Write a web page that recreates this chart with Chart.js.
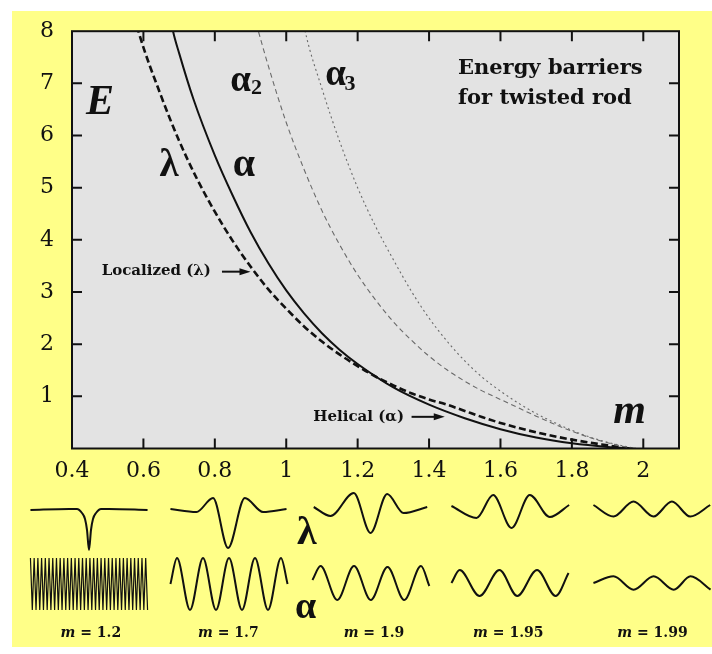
<!DOCTYPE html>
<html><head><meta charset="utf-8">
<script src="https://cdn.jsdelivr.net/npm/chart.js@4.4.1/dist/chart.umd.min.js"></script>
<style>
html,body{margin:0;padding:0;width:712px;height:654px;overflow:hidden;background:#fff;}
#bg{position:absolute;left:12px;top:11px;width:700px;height:636px;background:#ffff88;}
#main{position:absolute;left:0;top:0;}
.th{position:absolute;}
.lbl{position:absolute;font-family:"DejaVu Serif";font-weight:bold;font-size:14px;line-height:16px;color:#111;white-space:nowrap;transform:translateX(-50%);}
.greek{position:absolute;font-family:"Liberation Serif";font-weight:bold;color:#111;line-height:1;}
</style></head><body>
<div id="bg"></div>
<canvas id="main" width="712" height="490"></canvas>
<script>
// ---------- main chart data (m, E) ----------
const xTickLabels = ['0.4','0.6','0.8','1','1.2','1.4','1.6','1.8','2'];
const yTickLabels = ['','1','2','3','4','5','6','7','8'];

const mLambda = [0.575,0.586,0.65,0.70,0.75,0.80,0.85,0.90,0.95,1.00,1.05,1.10,1.15,1.20,1.25,1.30,1.35,1.40,1.45,1.50,1.55,1.60,1.70,1.80,1.90,1.96];
const eLambda = [8.30,8.00,6.75,5.90,5.17,4.54,3.98,3.49,3.05,2.68,2.34,2.05,1.80,1.58,1.38,1.21,1.06,0.94,0.84,0.72,0.60,0.49,0.31,0.17,0.06,0.00];

const mAlpha = [0.675,0.683,0.70,0.74,0.80,0.85,0.90,0.95,1.00,1.05,1.10,1.15,1.20,1.30,1.40,1.50,1.60,1.70,1.80,1.90,1.97];
const eAlpha = [8.30,8.00,7.58,6.70,5.62,4.85,4.15,3.55,3.03,2.59,2.21,1.89,1.62,1.17,0.84,0.58,0.37,0.21,0.10,0.03,0.00];

const mAlpha2 = [0.910,0.922,0.95,1.00,1.05,1.10,1.15,1.20,1.25,1.30,1.35,1.40,1.45,1.50,1.55,1.60,1.65,1.70,1.75,1.80,1.85,1.90,1.95,1.98];
const eAlpha2 = [8.30,8.00,7.33,6.25,5.35,4.56,3.90,3.33,2.85,2.43,2.08,1.77,1.51,1.29,1.10,0.94,0.78,0.62,0.47,0.33,0.21,0.11,0.03,0.00];

const mAlpha3 = [1.045,1.053,1.10,1.15,1.20,1.25,1.30,1.35,1.40,1.45,1.50,1.55,1.60,1.65,1.70,1.75,1.80,1.85,1.90,1.95,1.98];
const eAlpha3 = [8.30,8.00,6.90,5.88,5.00,4.26,3.62,3.02,2.50,2.06,1.68,1.36,1.10,0.87,0.67,0.50,0.35,0.22,0.12,0.04,0.00];

// ---------- rod shape thumbnails (arc length %, displacement) ----------
const rodCases = ['1.2','1.7','1.9','1.95','1.99'];
const lambdaS = [
  [0,33,39.7,44,46.6,48.3,50,51.7,53.4,56,60.3,67,100],
  [0,22.2,36.4,49.2,63.5,79.1,99.1],
  [1.1,15.4,35.3,49.6,63.8,77.8,98],
  [0,21.4,35.6,51.3,66.9,84,100.5],
  [0,17.1,34.2,51.3,67,82.6,99.7]
];
const lambdaW = [
  [0,1,1,-3,-9,-20,-40,-20,-9,-3,1,1,0],
  [0,-3,11,-39,11,-3,0],
  [0,-9,14,-26,13,-6,0],
  [0,-12,11,-22,11,-11,1],
  [4,-7.5,7.5,-7.5,7.5,-7.5,4]
];
const alphaW12 = [26,-26,26,-26,26,-26,26,-26,26,-26,26,-26,26,-26,26,-26,
                  26,-26,26,-26,26,-26,26,-26,26,-26,26,-26,26,-26,26,-26,
                  26,-26,26,-26,26,-26,26,-26,26,-26,26,-26,26,-26,26,-26,
                  26,-26,26,-26,26,-26,26,-26,26,-26,26,-26,26,-26,26,-26];
const alphaS = [
  null,
  [0,5.6,16.7,27.8,38.9,50,61.1,72.2,83.3,94.4,100],
  [0,6.9,21.2,35.5,49.8,64.1,78.4,92.7,99.8],
  [0,7,24,41,56.2,73.1,89,100],
  [0,17.1,34.3,51.4,68.6,82.9,100]
];
const alphaW = [
  alphaW12,
  [0,26,-26,26,-26,26,-26,26,-26,26,0],
  [3,17,-17,17,-17,16,-17,17,-3],
  [0,13,-13,13,-13,13,-13,10],
  [0,6.7,-6.7,6.7,-6.7,6.7,-6.7]
];

// ---------- layout ----------
const colStart = [30.7,170.7,312,451.7,593.3];
const lambdaBase = [510,509.3,507,506,509.2];
const alphaBase = [584,584,583.3,583.3,583.3];
const caseCenter = [90.8,228.3,374,508.3,652.5];

const pts = (xs, ys) => xs.map((x,i)=>({x:x, y:ys[i]}));

const notes = [
  {t:'E', m:0.439, e:6.42, f:'italic bold 42px "Liberation Serif"'},
  {t:'λ', m:0.645, e:5.22, f:'bold 39px "Liberation Serif"'},
  {t:'α', m:0.850, e:5.22, f:'bold 40px "Liberation Serif"'},
  {t:'α', m:0.843, e:6.85, f:'bold 37px "Liberation Serif"'},
  {t:'2', m:0.901, e:6.79, f:'bold 22px "Liberation Serif"'},
  {t:'α', m:1.109, e:6.96, f:'bold 37px "Liberation Serif"'},
  {t:'3', m:1.163, e:6.88, f:'bold 22px "Liberation Serif"'},
  {t:'m', m:1.916, e:0.48, f:'italic bold 42px "Liberation Serif"'},
  {t:'Energy barriers', m:1.481, e:7.18, f:'bold 21px "DejaVu Serif"'},
  {t:'for twisted rod', m:1.481, e:6.60, f:'bold 21px "DejaVu Serif"'},
  {t:'Localized (λ)', m:0.483, e:3.33, f:'bold 15px "DejaVu Serif"'},
  {t:'Helical (α)', m:1.076, e:0.525, f:'bold 15px "DejaVu Serif"'}
];
const arrows = [
  {m1:0.820, m2:0.900, e:3.39},
  {m1:1.351, m2:1.444, e:0.607}
];

const framePlugin = {
  id:'frame',
  beforeDraw(c){
    const a=c.chartArea, ctx=c.ctx;
    ctx.save(); ctx.fillStyle='#e3e3e3';
    ctx.fillRect(a.left,a.top,a.right-a.left,a.bottom-a.top); ctx.restore();
  },
  afterDatasetsDraw(c){
    const a=c.chartArea, ctx=c.ctx, sx=c.scales.x, sy=c.scales.y;
    ctx.save(); ctx.strokeStyle='#111'; ctx.lineWidth=2;
    ctx.strokeRect(a.left,a.top,a.right-a.left,a.bottom-a.top);
    ctx.beginPath();
    sx.ticks.forEach(t=>{
      const p=sx.getPixelForValue(t.value);
      if(p<=a.left+2||p>=a.right-2) return;
      ctx.moveTo(p,a.bottom); ctx.lineTo(p,a.bottom-10);
      ctx.moveTo(p,a.top); ctx.lineTo(p,a.top+10);
    });
    sy.ticks.forEach(t=>{
      const p=sy.getPixelForValue(t.value);
      if(p<=a.top+2||p>=a.bottom-2) return;
      ctx.moveTo(a.left,p); ctx.lineTo(a.left+10,p);
      ctx.moveTo(a.right,p); ctx.lineTo(a.right-10,p);
    });
    ctx.stroke(); ctx.restore();
  },
  afterDraw(c){
    const ctx=c.ctx, sx=c.scales.x, sy=c.scales.y;
    ctx.save(); ctx.fillStyle='#111'; ctx.strokeStyle='#111';
    ctx.textAlign='left'; ctx.textBaseline='alphabetic';
    notes.forEach(n=>{ ctx.font=n.f; ctx.fillText(n.t, sx.getPixelForValue(n.m), sy.getPixelForValue(n.e)); });
    arrows.forEach(r=>{
      const x1=sx.getPixelForValue(r.m1), x2=sx.getPixelForValue(r.m2), y=sy.getPixelForValue(r.e);
      ctx.lineWidth=2; ctx.beginPath(); ctx.moveTo(x1,y); ctx.lineTo(x2-8,y); ctx.stroke();
      ctx.beginPath(); ctx.moveTo(x2,y); ctx.lineTo(x2-11,y-3.5); ctx.lineTo(x2-11,y+3.5); ctx.closePath(); ctx.fill();
    });
    ctx.restore();
  }
};

const lineCommon = {pointRadius:0, cubicInterpolationMode:'monotone', clip:0, fill:false};

new Chart(document.getElementById('main'), {
  type:'line',
  data:{datasets:[
    Object.assign({label:'α2', data:pts(mAlpha2,eAlpha2), borderColor:'#6a6a6a', borderWidth:1.1, borderDash:[5,3.5]}, lineCommon),
    Object.assign({label:'α3', data:pts(mAlpha3,eAlpha3), borderColor:'#6a6a6a', borderWidth:1.1, borderDash:[2,3]}, lineCommon),
    Object.assign({label:'λ', data:pts(mLambda,eLambda), borderColor:'#111', borderWidth:2.6, borderDash:[7,3.5]}, lineCommon),
    Object.assign({label:'α', data:pts(mAlpha,eAlpha), borderColor:'#111', borderWidth:2}, lineCommon)
  ]},
  options:{
    responsive:false, devicePixelRatio:1, animation:false, events:[],
    layout:{padding:{left:12, top:29, right:33, bottom:1.5}},
    plugins:{legend:{display:false}, tooltip:{enabled:false}},
    scales:{
      x:{type:'linear', min:0.4, max:2.1,
         ticks:{stepSize:0.2, includeBounds:false, padding:10, color:'#111', maxRotation:0,
                font:{family:'DejaVu Serif', size:22},
                callback:(v,i)=>xTickLabels[i]},
         grid:{display:false, drawTicks:false}, border:{display:false},
         afterFit(s){ s.height=40; }},
      y:{type:'linear', min:0, max:8,
         ticks:{stepSize:1, padding:18, color:'#111',
                font:{family:'DejaVu Serif', size:22},
                callback:(v,i)=>yTickLabels[i]},
         grid:{display:false, drawTicks:false}, border:{display:false},
         afterFit(s){ s.width=60; }}
    }
  },
  plugins:[framePlugin]
});

// ---------- thumbnails ----------
function thumb(left, base, xs, ys, zig){
  const cv=document.createElement('canvas');
  cv.width=130; cv.height=100; cv.className='th';
  cv.style.left=(left-6.44)+'px'; cv.style.top=(base-50)+'px';
  document.body.appendChild(cv);
  new Chart(cv,{type:'line',
    data:{datasets:[{data:pts(xs,ys), borderColor:'#111', borderWidth: zig?1.2:2, pointRadius:0,
      cubicInterpolationMode: zig?'default':'monotone', tension:0, clip:false, fill:false}]},
    options:{responsive:false, devicePixelRatio:1, animation:false, events:[],
      layout:{padding:0}, plugins:{legend:{display:false}, tooltip:{enabled:false}},
      scales:{x:{type:'linear', display:false, min:-5.5, max:105.5}, y:{display:false, min:-50, max:50}}}});
}
rodCases.forEach((c,i)=>{
  thumb(colStart[i], lambdaBase[i], lambdaS[i], lambdaW[i], false);
  let xs = alphaS[i];
  if(!xs){ xs = alphaW[i].map((v,k)=>k*100/(alphaW[i].length-1)); }
  thumb(colStart[i], alphaBase[i], xs, alphaW[i], i===0);
  const d=document.createElement('div'); d.className='lbl';
  d.style.left=caseCenter[i]+'px'; d.style.top='624px';
  d.innerHTML='<i>m</i> = '+c;
  document.body.appendChild(d);
});
const gl=document.createElement('div'); gl.className='greek';
gl.style.cssText='left:297px;top:511px;font-size:40px;'; gl.textContent='λ'; document.body.appendChild(gl);
const ga=document.createElement('div'); ga.className='greek';
ga.style.cssText='left:295px;top:586px;font-size:38px;'; ga.textContent='α'; document.body.appendChild(ga);
</script>
</body></html>
